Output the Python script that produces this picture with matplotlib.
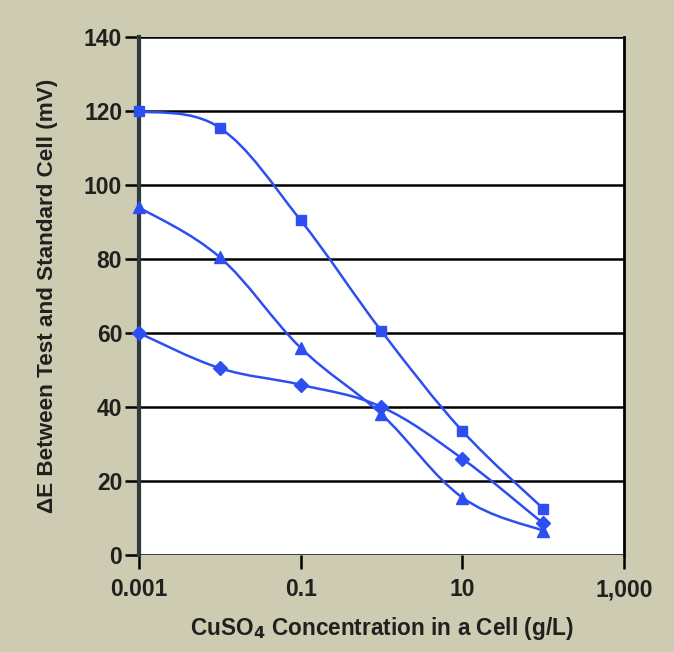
import numpy as np
import matplotlib
matplotlib.use("Agg")
import matplotlib.pyplot as plt
from matplotlib.path import Path
from matplotlib.patches import PathPatch
from matplotlib.ticker import FixedLocator, NullLocator

# data
concentration = [0.001, 0.01, 0.1, 1, 10, 100]
delta_e_square = [120, 115.5, 90.5, 60.5, 33.5, 12.5]
delta_e_triangle = [94, 80.5, 56, 38, 15.5, 6.5]
delta_e_diamond = [60, 50.5, 46, 40, 26, 8.5]

x_ticks = [0.001, 0.1, 10, 1000]
x_tick_labels = ["0.001", "0.1", "10", "1,000"]
y_ticks = [0, 20, 40, 60, 80, 100, 120, 140]

BG = "#cdcbb1"
BLUE = "#2d4ff2"


def smooth_path(xs, ys, tension=0.18):
    # bezier through the points, built in log-x space
    lx = np.log10(xs)
    ys = np.asarray(ys, float)
    n = len(lx)
    verts = [(xs[0], ys[0])]
    codes = [Path.MOVETO]
    for i in range(n - 1):
        p0 = (lx[max(i - 1, 0)], ys[max(i - 1, 0)])
        p1 = (lx[i], ys[i])
        p2 = (lx[i + 1], ys[i + 1])
        p3 = (lx[min(i + 2, n - 1)], ys[min(i + 2, n - 1)])
        c1 = (p1[0] + (p2[0] - p0[0]) * tension, p1[1] + (p2[1] - p0[1]) * tension)
        c2 = (p2[0] - (p3[0] - p1[0]) * tension, p2[1] - (p3[1] - p1[1]) * tension)
        verts += [(10 ** c1[0], c1[1]), (10 ** c2[0], c2[1]), (10 ** p2[0], p2[1])]
        codes += [Path.CURVE4] * 3
    return Path(verts, codes)


plt.rcParams["font.family"] = ["Liberation Sans", "DejaVu Sans"]
plt.rcParams["font.weight"] = "bold"

fig = plt.figure(figsize=(6.74, 6.52), dpi=100, facecolor=BG)
ax = fig.add_axes([0.206, 0.149, 0.72, 0.794])
ax.set_facecolor("white")
ax.set_xscale("log")
ax.set_xlim(0.001, 1000)
ax.set_ylim(0, 140)

for yv in y_ticks:
    ax.axhline(yv, color="black", lw=1.8, zorder=1)

for ys, mk, ms in [(delta_e_square, "s", 7),
                   (delta_e_triangle, "^", 9),
                   (delta_e_diamond, "D", 7)]:
    ax.add_patch(PathPatch(smooth_path(concentration, ys), fill=False,
                           edgecolor=BLUE, lw=1.8, zorder=3, clip_on=False))
    ax.plot(concentration, ys, ls="none", marker=mk, ms=ms, color=BLUE,
            zorder=4, clip_on=False)

ax.xaxis.set_major_locator(FixedLocator(x_ticks))
ax.xaxis.set_minor_locator(NullLocator())
ax.set_xticklabels(x_tick_labels)
ax.set_yticks(y_ticks)

ax.tick_params(axis="both", which="major", length=10, width=1.8, color="black",
               labelsize=16.5, direction="out", labelcolor="#231f1f")
ax.tick_params(axis="x", pad=7)
ax.tick_params(axis="y", pad=2)

for side in ["top", "bottom"]:
    ax.spines[side].set_visible(False)
ax.spines["left"].set_color("#2c3a3a")
ax.spines["left"].set_linewidth(3)
ax.spines["right"].set_color("black")
ax.spines["right"].set_linewidth(2)

ax.set_xlabel("CuSO$_\\mathbf{4}$ Concentration in a Cell (g/L)", fontsize=16.3,
              fontweight="bold", labelpad=10, color="#231f1f")
ax.set_ylabel("ΔE Between Test and Standard Cell (mV)", fontsize=16.2,
              fontweight="bold", labelpad=19, color="#231f1f")

fig.savefig("out.png", dpi=100, facecolor=BG)
